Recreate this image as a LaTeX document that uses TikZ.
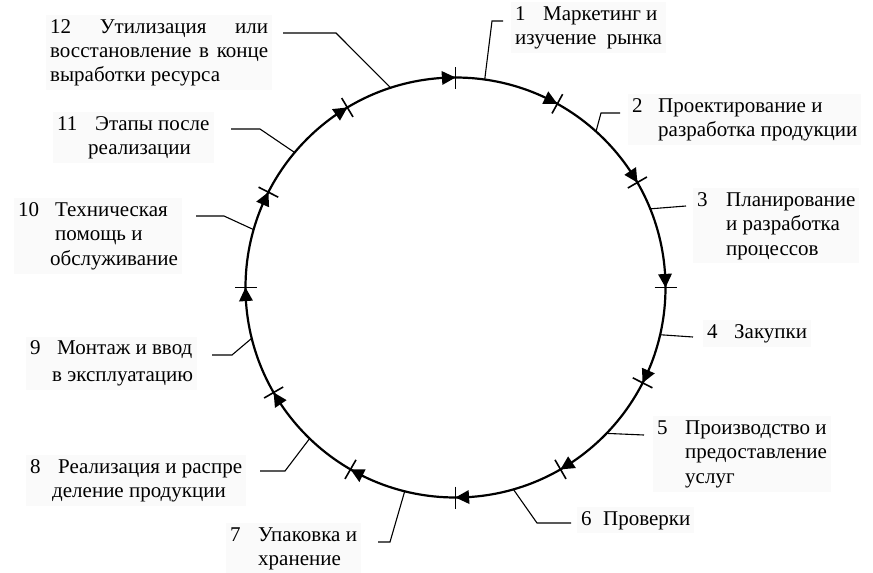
\documentclass[tikz,border=0pt]{standalone}
\usepackage{fontspec}
\setmainfont{Liberation Serif}
\usetikzlibrary{calc}
\begin{document}
\begin{tikzpicture}[x=1pt,y=1pt,
  lbl/.style={anchor=base west, align=left, inner xsep=4pt, inner ysep=4pt, fill=black!2,
              font=\fontsize{21}{24.5}\selectfont},
  ringstyle/.style={circle, draw, line width=2.2pt, inner sep=0pt, outer sep=0pt, minimum size=420pt},
  tickmark/.style={line width=1.6pt},
  leader/.style={line width=1.1pt}]
\useasboundingbox (0,0) rectangle (873,-573);
\coordinate (c) at (455.5,-287.5);
\node[ringstyle] (ring) at (c) {};
\foreach \a in {90,61,30,0,-27,-60,-90,-120,-150,180,153,121} {
  \draw[tickmark] ($(c)+(\a:199)$) -- ($(c)+(\a:221)$);
  \fill ($(c)+(\a:210)$) -- ($(c)+(\a+3.7:203)$) -- ($(c)+(\a+3.7:217)$) -- cycle;
}
% labels (anchor = baseline of last line)
\node[lbl] (l1) at (511,-44.5) {\makebox[28pt][l]{1}Маркетинг и\\изучение\ \ рынка};
\node[lbl] (l2) at (628,-136.5) {\makebox[26pt][l]{2}Проектирование и\\\hspace*{26pt}разработка продукции};
\node[lbl] (l3) at (693,-255) {\makebox[29pt][l]{3}Планирование\\\hspace*{29pt}и разработка\\\hspace*{29pt}процессов};
\node[lbl] (l4) at (703,-338) {\makebox[27pt][l]{4}Закупки};
\node[lbl] (l5) at (653,-483) {\makebox[28pt][l]{5}Производство и\\\hspace*{28pt}предоставление\\\hspace*{28pt}услуг};
\node[lbl] (l6) at (577,-525) {\makebox[22pt][l]{6}Проверки};
\node[lbl] (l7) at (226,-565.5) {\makebox[28pt][l]{7}Упаковка и\\\hspace*{28pt}хранение};
\node[lbl] (l8) at (26,-497.5) {\makebox[28pt][l]{8}Реализация и распре\\\hspace*{22pt}деление продукции};
\node[lbl] (l9) at (26,-381) {\makebox[27pt][l]{9}Монтаж и ввод\\[2pt]\hspace*{22pt}в эксплуатацию};
\node[lbl] (l10) at (14,-265) {\makebox[37pt][l]{10}Техническая\\\hspace*{37pt}помощь и\\\hspace*{32pt}обслуживание};
\node[lbl] (l11) at (53,-154.5) {\makebox[38pt][l]{11}Этапы после\\\hspace*{31pt}реализации};
\node[lbl] (l12) at (46,-81) {\makebox[218pt][s]{12 Утилизация или}\\[-0.5pt]\makebox[218pt][s]{восстановление в конце}\\[-0.5pt]выработки ресурса};
% leader ends
\coordinate (e1) at (503,-21);
\coordinate (e2) at (620,-113);
\coordinate (e3) at (686,-206);
\coordinate (e4) at (693,-337);
\coordinate (e5) at (644,-435);
\coordinate (e6) at (571,-523);
\coordinate (e7) at (378,-542);
\coordinate (e8) at (260,-471);
\coordinate (e9) at (212,-355);
\coordinate (e10) at (196,-216);
\coordinate (e11) at (231,-129);
\coordinate (e12) at (283,-33);
\draw[leader] (ring.82.5) -- (492,-21) -- (e1);
\draw[leader] (ring.48.6) -- (601,-113) -- (e2);
\draw[leader] (ring.22.3) -- (e3);
\draw[leader] (ring.-13) -- (e4);
\draw[leader] (ring.-44.2) -- (e5);
\draw[leader] (ring.-74) -- (537,-523) -- (e6);
\draw[leader] (ring.256.2) -- (390,-542) -- (e7);
\draw[leader] (ring.226.7) -- (285,-471) -- (e8);
\draw[leader] (ring.194.3) -- (232,-355) -- (e9);
\draw[leader] (ring.164.9) -- (224,-216) -- (e10);
\draw[leader] (ring.140.2) -- (260,-129) -- (e11);
\draw[leader] (ring.108.3) -- (336,-33) -- (e12);
\end{tikzpicture}
\end{document}
